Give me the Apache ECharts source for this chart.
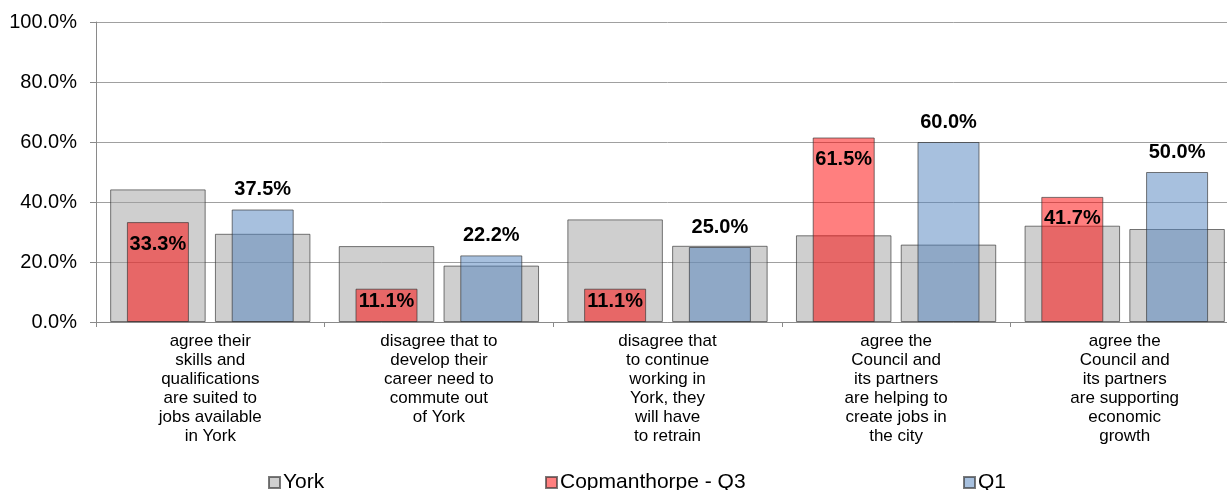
<!DOCTYPE html>
<html>
<head>
<meta charset="utf-8">
<script src="https://cdn.jsdelivr.net/npm/echarts@6/dist/echarts.min.js"></script>
<style>
html,body{margin:0;padding:0;background:#fff;overflow:hidden;}
#chart{width:1240px;height:490px;}
</style>
</head>
<body>
<div id="chart"></div>
<script>
const categories = [
  "agree their\nskills and\nqualifications\nare suited to\njobs available\nin York",
  "disagree that to\ndevelop their\ncareer need to\ncommute out\nof York",
  "disagree that\nto continue\nworking in\nYork, they\nwill have\nto retrain",
  "agree the\nCouncil and\nits partners\nare helping to\ncreate jobs in\nthe city",
  "agree the\nCouncil and\nits partners\nare supporting\neconomic\ngrowth"
];
const yorkQ3 = [44.2, 25.3, 34.2, 28.9, 32.1];
const yorkQ1 = [29.4, 18.8, 25.4, 25.8, 31.0];
const copQ3 = [33.3, 11.1, 11.1, 61.5, 41.7];
const copQ1 = [37.5, 22.2, 25.0, 60.0, 50.0];
const yTicks = [0, 20, 40, 60, 80, 100];
const legendNames = ["York", "Copmanthorpe - Q3", "Q1"];

const FONT = "'Liberation Sans', Arial, sans-serif";
const border = 'rgba(50,50,50,0.65)';
const pct = v => v.toFixed(1) + '%';

const chart = echarts.init(document.getElementById('chart'), null, {renderer: 'canvas'});
const labelFont = {fontFamily: FONT, fontSize: 20, fontWeight: 'bold', color: '#000'};

chart.setOption({
  animation: false,
  backgroundColor: '#fff',
  textStyle: {fontFamily: FONT},
  grid: {left: 96, right: 1, top: 22, bottom: 168},
  legend: [
    {data: [legendNames[0]], left: 268, top: 472},
    {data: [legendNames[1]], left: 545, top: 472},
    {data: [legendNames[2]], left: 963, top: 472}
  ].map(l => Object.assign(l, {
    icon: 'rect', itemWidth: 11, itemHeight: 11, padding: 0, itemGap: 0,
    selectedMode: false,
    textStyle: {fontFamily: FONT, fontSize: 21, color: '#000', padding: [0, 0, 0, -2]}
  })),
  xAxis: [
    {
      type: 'category', data: categories, boundaryGap: true,
      axisLine: {lineStyle: {color: '#8a8a8a', width: 1}},
      axisTick: {show: true, length: 5, interval: 0, lineStyle: {color: '#8a8a8a'}},
      axisLabel: {interval: 0, fontFamily: FONT, fontSize: 17, lineHeight: 19, color: '#000', margin: 10, align: 'center'}
    },
    {
      type: 'category', data: categories, position: 'bottom', show: false
    }
  ],
  yAxis: {
    type: 'value', min: yTicks[0], max: yTicks[yTicks.length - 1], interval: 20,
    axisLine: {show: true, lineStyle: {color: '#8a8a8a', width: 1}},
    axisTick: {show: true, length: 6, lineStyle: {color: '#8a8a8a'}},
    axisLabel: {fontFamily: FONT, fontSize: 20, color: '#000', margin: 19, formatter: v => pct(v)},
    splitLine: {show: true, lineStyle: {color: '#a0a0a0', width: 1}}
  },
  series: [
    {
      name: 'York', type: 'bar', xAxisIndex: 0, data: yorkQ3,
      barWidth: 95.5, barGap: '9.7%',
      itemStyle: {color: 'rgba(160,160,160,0.5)', borderColor: border, borderWidth: 1}
    },
    {
      name: 'York', type: 'bar', xAxisIndex: 0, data: yorkQ1,
      barWidth: 95.5, barGap: '9.7%',
      itemStyle: {color: 'rgba(160,160,160,0.5)', borderColor: border, borderWidth: 1}
    },
    {
      name: 'Copmanthorpe - Q3', type: 'bar', xAxisIndex: 1,
      data: copQ3.map(v => ({value: v, label: {distance: v < 15 ? 3 : 12}})),
      barWidth: 62, barGap: '69%',
      itemStyle: {color: 'rgba(255,0,0,0.5)', borderColor: border, borderWidth: 1},
      label: Object.assign({show: true, position: 'insideTop', formatter: p => pct(p.value)}, labelFont)
    },
    {
      name: 'Q1', type: 'bar', xAxisIndex: 1, data: copQ1,
      barWidth: 62, barGap: '69%',
      itemStyle: {color: 'rgba(79,129,189,0.5)', borderColor: border, borderWidth: 1},
      label: Object.assign({show: true, position: 'top', distance: 10, formatter: p => pct(p.value)}, labelFont)
    }
  ]
});
</script>
</body>
</html>
